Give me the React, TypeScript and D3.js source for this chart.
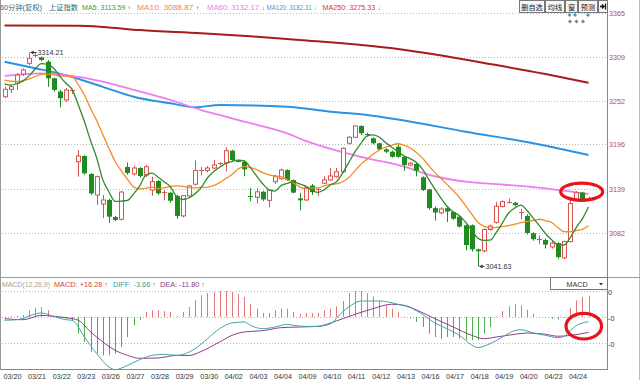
import React from "react";
import * as d3 from "d3";

// ---------- data ----------
const dayLabels = ["03/20","03/21","03/22","03/23","03/26","03/27","03/28","03/29","03/30","04/02","04/03","04/04","04/09","04/10","04/11","04/12","04/13","04/16","04/17","04/18","04/19","04/20","04/23","04/24"];

const opens = [3257.3,3266.8,3274.6,3286.5,3300.3,3310.5,3308,3302.4,3281,3264,3253.1,3264,
3173.7,3181,3157.9,3130.9,3119.3,3124.5,3102.6,3099.6,3166.9,3158,3165.6,3156.6,
3137.3,3148.9,3133,3133.8,3129.6,3104,3129.6,3144.8,3163,3162.3,3165.6,3171,
3172.4,3187.9,3175,3173.7,3129.6,3127.9,3135,3124,3148,3152,3163,3150,
3126.5,3124.5,3143,3137,3146,3150.2,3154.4,3160.8,3197.4,3205.1,3219.7,3209.5,
3203.8,3197.4,3189.6,3186.6,3193,3180,3169.5,3170.8,3153.6,3138,3114,3108,
3114,3109,3103,3092,3092,3061,3059,3086.5,3095.7,3116,3122,3121,
3109,3104,3081.6,3074,3073,3064,3069,3050,3071,3125,3134,3126];

const closes = [3266.8,3270.2,3285.2,3291.7,3306.7,3311,3304.6,3281,3266,3255.3,3266,3265.5,
3181,3158.8,3133,3154.4,3124.5,3103,3098.7,3134.7,3159.2,3165.6,3155.3,3167.2,
3148,3133,3135,3123.5,3103.9,3130,3142.5,3162.3,3163.5,3165.6,3169.5,3171.5,
3187.9,3175.9,3174.5,3163.9,3127.9,3135,3125.2,3137,3154.4,3163,3150,3134,
3124,3140.8,3134.6,3138,3150.2,3155.4,3160.8,3190.9,3205.1,3219.7,3210.3,3208.5,
3197.4,3189.6,3186.6,3180,3180,3169.5,3171.8,3162.2,3137.3,3114,3108.3,3113,
3109.6,3100.4,3090.3,3066.5,3061,3058.6,3086.5,3091,3116.3,3122.4,3122.5,3118,
3109.5,3082,3074,3074.5,3067,3069,3051,3071,3120,3134,3125,3127];

const highs = [3270.2,3272.4,3287.8,3294,3314.21,3313.5,3309,3304.5,3282,3266,3268.5,3267,
3188.8,3182,3159,3156,3130.9,3126,3104,3136,3172.7,3169,3167,3170,
3154.4,3150,3137,3135,3131,3131,3144,3175.3,3167,3168,3176,3173,
3192.2,3189,3176,3175,3139.8,3140,3136,3138,3157,3165,3164,3151,
3133.5,3142,3145,3140,3155,3165.7,3165.7,3192,3206.8,3220.5,3220.5,3211,
3205,3198,3191,3188,3198,3181,3173,3172,3155,3139,3116,3115,
3115,3110,3104,3093,3093,3062,3088,3093,3122,3124,3126.3,3122,
3113,3106,3083,3079,3075,3073,3070,3072,3125,3136,3135,3129];

const lows = [3255.7,3262,3266,3284,3298,3308,3303,3270,3264,3243.7,3250.5,3261,
3154.4,3157,3131,3118,3101,3095,3097,3098,3157,3156,3153,3154,
3130,3131,3124,3121,3100.5,3102,3128,3143,3156,3160,3164,3169,
3161,3174,3173,3155,3123,3120,3123,3115,3145,3150,3149,3133,
3111,3123,3131,3130,3145,3149,3153,3159,3196,3204,3208,3206,
3196,3188,3185,3179,3179,3162,3168,3155,3136,3112,3098,3106,
3096,3099,3089,3060,3058,3041.63,3057,3085,3094,3115,3120,3116,
3100,3080,3072,3068,3062,3062,3049,3048,3070,3124,3124,3124];

// closes of the 9 hourly bars before the visible window (for MA5 / MA10)
const priorCloses = [3286,3288,3283,3281,3281.5,3278,3276,3273,3274.7];

// long moving averages (bar index, value)
const ma60Idx = [0,6,10,16,21,27,32,35,39,46,49,54,59,64,70,75,81,86,95];
const ma60Val = [3284,3287.4,3285,3276.6,3266,3253.1,3240.2,3233.8,3225.2,3210.2,3200.4,3188,3178,3169.5,3155,3148,3144.4,3141,3132.17];
const ma120Idx = [0,5,10,16,21,27,31,35,46,53,59,64,75,86,95];
const ma120Val = [3302.4,3294,3285,3270,3257.3,3248.8,3243.7,3246.7,3244.5,3238,3233.8,3228,3212.3,3197.4,3182.31];
const ma250Idx = [0,12,16,22,32,40,48,64,80,88,95];
const ma250Val = [3349,3348.5,3347,3343,3339,3335,3330.3,3318.7,3298,3286.5,3275.33];

const priceTicks = [3365,3309,3252,3196,3139,3082];

// MACD
const macdHist = [-1.2,0.8,0.8,1.5,5.2,7.2,7.7,5.2,0.8,-0.4,-1.3,-2.5,
-12.8,-19.2,-26.9,-28.2,-29.5,-29.5,-28.2,-23.1,-15.4,-6.4,-2.1,3.8,
5.2,5.2,4.6,3.8,0.8,3.8,7.7,12.8,16.7,18.5,19.2,20,
20,19.2,17.9,15.4,10.2,6.4,3.1,3.1,5.2,6.4,6.4,3.8,
2.5,3.1,3.1,3.1,5.2,6.4,8.2,12.3,18.5,20,20,18.5,
15.9,12.3,9,6.4,3.8,0.4,-1.3,-3.8,-7.7,-12.8,-15.4,-16.7,
-15.4,-15.4,-16.7,-17.9,-17.9,-17.9,-12.8,-7.7,0.5,4.6,8.2,9.8,
9,5.6,2.5,0.3,-0.8,-1.3,-2.1,-0.8,7.2,12.8,15.4,16.28];
const diffIdx = [0,2,6,8,10,11,13,15,17,18,20,22,24,26,28,31,33,35,37,39,40,42,44,46,47,49,51,53,55,56,58,61,64,66,68,70,72,74,76,77,79,81,83,84,86,88,90,91,92,93,94,95];
const diffVal = [-2.5,-2.1,3.1,0.5,-2.1,-2.5,-15.4,-28.2,-38.5,-40.5,-37.2,-32.8,-29.5,-28.7,-29.5,-24.4,-16.7,-9,-4.6,-3.8,-6.4,-9,-7.7,-5.6,-6.4,-7.2,-7.2,-5.2,4,7.7,12.3,12.3,9.8,7.2,2,-4.6,-9,-14.1,-21.5,-23.5,-20.5,-15.4,-10.5,-9.8,-12.3,-14.1,-15.9,-15,-10.7,-6.6,-4.6,-3.66];
const deaIdx = [0,3,6,8,10,12,14,16,18,20,22,25,28,30,32,35,37,39,42,45,48,51,54,57,60,63,65,67,70,73,76,78,80,83,85,88,90,92,95];
const deaVal = [-1.3,-2.1,1.3,0.5,-0.5,-2.5,-11.5,-19.2,-25.6,-29.5,-31.8,-31.5,-29.5,-29.6,-26.5,-19.2,-14.1,-11.5,-10.5,-8.2,-7.7,-7.2,-3,2,6.5,9.8,9,5.5,-1.3,-7.7,-14.1,-16.7,-15.4,-13.3,-12.3,-13.3,-14.8,-14.2,-11.8];
const macdTicks = [20,0,-20];
const macdTickLabels = ["0","-0","-0"];

const FONT = "'Liberation Sans', Arial, 'Noto Sans CJK SC', sans-serif";
const RED = "#d9534f";
const GREEN = "#1e8c1e";
const UP_ARROW = "#e02020";
const DOWN_ARROW = "#30b8d0";

export default function App() {
  const n = closes.length;
  const x = d3.scaleLinear().domain([0, n - 1]).range([4.5, 588.5]);
  const y = d3.scaleLinear().domain([3082, 3365]).range([233, 13]);
  const ym = d3.scaleLinear().domain([-20, 20]).range([343, 291]);
  const idx = d3.range(n);

  const all = priorCloses.concat(closes);
  const P = priorCloses.length;
  const ma = (w: number) => idx.map((i) => d3.mean(all.slice(P + i - w + 1, P + i + 1)) as number);
  const ma5 = ma(5);
  const ma10 = ma(10);

  const lineIdx = d3.line<number>().x((_, i) => x(i)).y((v) => y(v)).curve(d3.curveMonotoneX);
  const sampled = (ks: number[], vs: number[], sc: (v: number) => number) =>
    d3.line<number>().x((_, i) => x(ks[i])).y((v) => sc(v)).curve(d3.curveMonotoneX)(vs) as string;

  const cx = (i: number) => Math.round(x(i)) + 0.5;

  const lowIdx = lows.indexOf(d3.min(lows) as number);
  const highIdx = highs.indexOf(d3.max(highs) as number);

  // [text, arrow, x, colour, arrow colour, total width]
  const titleParts: [string, string, number, string, string, number][] = [
    ["60分钟(复权)", "", 0, "#2a6b78", "", 42],
    ["上证指数", "", 49, "#2a6b78", "", 29],
    ["MA5: 3113.59 ", "↑", 82, "#3d9a3d", UP_ARROW, 49],
    ["MA10: 3088.87 ", "↑", 137, "#f0883c", UP_ARROW, 63],
    ["MA60: 3132.17 ", "↓", 207, "#ee7aee", DOWN_ARROW, 58],
    ["MA120: 3182.31 ", "↓", 266.5, "#3c9ae6", DOWN_ARROW, 50],
    ["MA250: 3275.33 ", "↓", 322.5, "#c84040", DOWN_ARROW, 58.5],
  ];
  const macdParts: [string, string, number, string, string, number][] = [
    ["MACD(12,26,9)", "", 2, "#a0a0a0", "", 48],
    ["MACD: +16.28 ", "↑", 54, "#c84848", UP_ARROW, 54],
    ["DIFF: -3.66 ", "↑", 113, "#3a9a9a", UP_ARROW, 43],
    ["DEA: -11.80 ", "↑", 160, "#8a3a8a", UP_ARROW, 45],
  ];
  const buttons: [string, number, number][] = [
    ["删自选", 519.5, 25],
    ["均线", 545.5, 19],
    ["窗", 565.5, 12],
    ["预测", 578.5, 19],
  ];

  const label = (p: [string, string, number, string, string, number], yy: number, fs: number, key: number) => (
    <text key={key} x={p[2]} y={yy} fontSize={fs} fill={p[3]} textLength={p[5]} lengthAdjust="spacingAndGlyphs">
      {p[0]}
      {p[1] ? <tspan fill={p[4]}>{p[1]}</tspan> : null}
    </text>
  );

  return (
    <svg width={640} height={380} style={{ position: "absolute", left: 0, top: 0, background: "#fff" }} fontFamily={FONT}>
      <rect x={0} y={0} width={640} height={380} fill="#fff" />
      {/* frame */}
      <line x1={0.5} y1={0} x2={0.5} y2={369} stroke="#999" />
      <line x1={607.5} y1={0} x2={607.5} y2={369.5} stroke="#888" />
      <line x1={639.5} y1={0} x2={639.5} y2={380} stroke="#bbb" />
      <line x1={0} y1={277.5} x2={640} y2={277.5} stroke="#999" />
      <line x1={0} y1={369.5} x2={608} y2={369.5} stroke="#888" />

      {/* price grid + labels */}
      {priceTicks.map((t) => (
        <g key={t}>
          <line x1={2} x2={607} y1={Math.round(y(t)) + 0.5} y2={Math.round(y(t)) + 0.5} stroke="#b8b8b8" strokeDasharray="1,2" />
          <text x={609} y={y(t) + 3} fontSize={7.2} fill="#b84a4a">{t}</text>
        </g>
      ))}

      {/* long MAs */}
      <path d={sampled(ma250Idx, ma250Val, y)} fill="none" stroke="#a51c1c" strokeWidth={2} />
      <path d={sampled(ma120Idx, ma120Val, y)} fill="none" stroke="#2b93e6" strokeWidth={2} />
      <path d={sampled(ma60Idx, ma60Val, y)} fill="none" stroke="#f07cf0" strokeWidth={1.8} />

      {/* candles */}
      {idx.map((i) => {
        const o = opens[i], c = closes[i], h = highs[i], l = lows[i];
        const up = c >= o;
        const col = up ? RED : GREEN;
        const X = cx(i);
        const top = y(Math.max(o, c));
        const bot = y(Math.min(o, c));
        const bh = Math.max(bot - top, 1);
        return (
          <g key={i}>
            <line x1={X} x2={X} y1={y(h)} y2={y(l)} stroke={col} />
            {bh < 1.6 ? (
              <line x1={X - 2.5} x2={X + 2.5} y1={Math.round(top) + 0.5} y2={Math.round(top) + 0.5} stroke={col} />
            ) : up ? (
              <rect x={X - 2} y={top} width={4} height={bh} fill="#fff" stroke={col} />
            ) : (
              <rect x={X - 2.5} y={top} width={5} height={bh} fill={col} />
            )}
          </g>
        );
      })}

      {/* short MAs */}
      <path d={lineIdx(ma10) as string} fill="none" stroke="#f28c28" strokeWidth={1.3} />
      <path d={lineIdx(ma5) as string} fill="none" stroke="#2e8b2e" strokeWidth={1.3} />

      {/* high / low markers */}
      <g stroke="#333" fill="#333">
        <line x1={cx(highIdx) + 1} x2={cx(highIdx) + 7} y1={y(highs[highIdx])} y2={y(highs[highIdx])} />
        <path d={`M${cx(highIdx) + 1},${y(highs[highIdx])} l3,-2 v4 z`} stroke="none" />
        <line x1={cx(lowIdx)} x2={cx(lowIdx)} y1={y(lows[lowIdx])} y2={y(lows[lowIdx]) + 2} />
        <line x1={cx(lowIdx) + 1} x2={cx(lowIdx) + 6} y1={y(lows[lowIdx]) + 2} y2={y(lows[lowIdx]) + 2} />
        <path d={`M${cx(lowIdx) + 1},${y(lows[lowIdx]) + 2} l3,-2 v4 z`} stroke="none" />
      </g>
      <text x={cx(highIdx) + 8} y={y(highs[highIdx]) + 3} fontSize={7.2} fill="#333">{highs[highIdx].toFixed(2)}</text>
      <text x={cx(lowIdx) + 7} y={y(lows[lowIdx]) + 5} fontSize={7.2} fill="#333">{lows[lowIdx].toFixed(2)}</text>

      {/* title */}
      {titleParts.map((p, i) => label(p, 9.5, 6.3, i))}

      {/* buttons */}
      {buttons.map(([t, bx, bw]) => (
        <g key={t}>
          <rect x={bx} y={0.5} width={bw} height={12} fill="#f7f7f7" stroke="#777" />
          <text x={bx + bw / 2} y={9.5} fontSize={7.2} textAnchor="middle" fill="#222">{t}</text>
        </g>
      ))}
      <rect x={598.5} y={0.5} width={9} height={12} fill="#f7f7f7" stroke="#777" />
      <path d="M600,6.5 h3.5 M602,4.5 l2,2 l-2,2 M605.5,3.5 v6" stroke="#111" strokeWidth={1.3} fill="none" />
      {[569.5, 575, 588].map((dx, i) => (
        <path key={"t" + i} d={`M${dx},13 l2,2 l-2,2 l-2,-2 z`} fill="#3aa4b8" />
      ))}
      {[570, 576.5, 583].map((dx, i) => (
        <path key={"g" + i} d={`M${dx},19.5 l2,2 l-2,2 l-2,-2 z`} fill="#7a8686" />
      ))}

      {/* MACD pane */}
      {macdTicks.map((t, i) => (
        <g key={t}>
          <line x1={2} x2={607} y1={Math.round(ym(t)) + 0.5} y2={Math.round(ym(t)) + 0.5} stroke="#b8b8b8" strokeDasharray="1,2" />
          <text x={608} y={ym(t) + 4} fontSize={7.2} fill="#333">{macdTickLabels[i]}</text>
        </g>
      ))}
      {macdHist.map((v, i) => (
        <line key={i} x1={cx(i)} x2={cx(i)} y1={ym(0)} y2={ym(v)} stroke={v >= 0 ? "#e07878" : "#4cae4c"} strokeWidth={1} />
      ))}
      <path d={sampled(deaIdx, deaVal, ym)} fill="none" stroke="#8e3c8e" strokeWidth={1} />
      <path d={sampled(diffIdx, diffVal, ym)} fill="none" stroke="#45a5a5" strokeWidth={1} />
      {macdParts.map((p, i) => label(p, 287, 7, i))}
      <rect x={550.5} y={277.5} width={57} height={12} fill="#fff" stroke="#777" />
      <text x={577} y={286.5} fontSize={7.2} textAnchor="middle" fill="#333">MACD</text>
      <path d="M599,283 h4 l-2,2.5 z" fill="#333" />

      {/* x axis labels */}
      {dayLabels.map((d, i) => (
        <text key={d} x={Math.max(2, x(i * 4) - 1)} y={378.5} fontSize={7.2} fill="#333">{d}</text>
      ))}

      {/* annotation ellipses */}
      <ellipse cx={581.7} cy={191.7} rx={21} ry={8.6} fill="none" stroke="#e8141b" strokeWidth={3.2} />
      <ellipse cx={583.8} cy={326.2} rx={17.8} ry={12.8} fill="none" stroke="#e8141b" strokeWidth={3.2} />
    </svg>
  );
}
